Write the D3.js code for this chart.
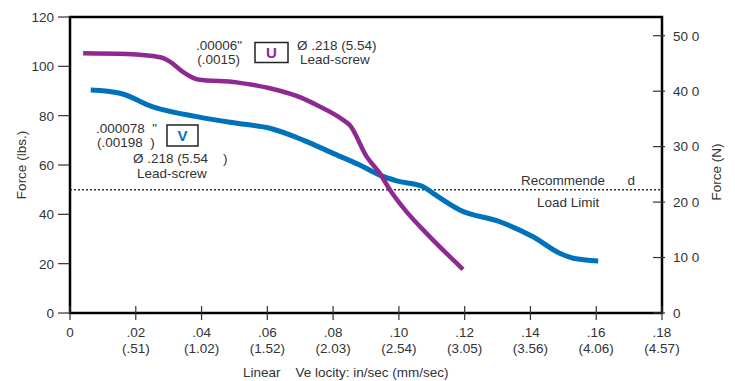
<!DOCTYPE html>
<html><head><meta charset="utf-8">
<script src="https://cdn.jsdelivr.net/npm/d3@7"></script>
<style>
body{margin:0;background:#fff;}
text{font-family:"Liberation Sans",Arial,sans-serif;fill:#333;white-space:pre;}
</style></head>
<body><svg id="c" width="735" height="381"></svg>
<script>
// Data
const xTicks = [0,0.02,0.04,0.06,0.08,0.10,0.12,0.14,0.16,0.18];
const xTickLabels = ["0",".02",".04",".06",".08",".10",".12",".14",".16",".18"];
const xTickMm = ["","(.51)","(1.02)","(1.52)","(2.03)","(2.54)","(3.05)","(3.56)","(4.06)","(4.57)"];
const yTicksLbs = [0,20,40,60,80,100,120];
const yTicksN = [0,100,200,300,400,500];
const yTickLabelsN = ["0","10 0","20 0","30 0","40 0","50 0"];
const loadLimit = 50;
const uVel = [0.0040,0.0172,0.0274,0.0304,0.0343,0.0389,0.0507,0.0608,0.0708,0.0750,0.0831,0.0851,0.0902,0.0942,0.0973,0.1023,0.1084,0.1195];
const uForce = [105.3,105.0,103.7,101.9,97.8,94.7,93.5,91.1,87.0,84.3,78.2,76.1,63.4,56.6,49.9,41.1,32.3,17.7];
const vVel = [0.0063,0.0152,0.0252,0.0385,0.0507,0.0608,0.0709,0.0800,0.0881,0.0942,0.0993,0.1074,0.1104,0.1185,0.1307,0.1408,0.1489,0.1530,0.1606];
const vForce = [90.4,89.1,83.6,79.6,76.9,74.9,70.1,64.7,60.0,55.9,53.6,51.2,48.5,41.8,37.0,30.9,24.2,22.2,21.1];

const svg = d3.select("#c");
const L=70,R=662,T=17,B=313;
const x = d3.scaleLinear().domain([0,0.18]).range([L,R]);
const y = d3.scaleLinear().domain([0,120]).range([B,T]);
const yN = d3.scaleLinear().domain([0,120*4.448]).range([B,T]);
const fs = 13.5;

// dashed load limit
svg.append("line").attr("x1",L).attr("x2",R).attr("y1",y(loadLimit)).attr("y2",y(loadLimit))
  .attr("stroke","#333").attr("stroke-width",1.5).attr("stroke-dasharray","2,2");

// curves
const line = d3.line().curve(d3.curveMonotoneX).x(d=>x(d[0])).y(d=>y(d[1]));
svg.append("path").datum(vVel.map((v,i)=>[v,vForce[i]])).attr("d",line)
  .attr("fill","none").attr("stroke","#0072BC").attr("stroke-width",5).attr("stroke-linejoin","round");
svg.append("path").datum(uVel.map((v,i)=>[v,uForce[i]])).attr("d",line)
  .attr("fill","none").attr("stroke","#8E2A8F").attr("stroke-width",4.5).attr("stroke-linejoin","round");

// frame
svg.append("path").attr("d",`M${L},${T}H${R}V${B}H${L}Z`).attr("fill","none").attr("stroke","#000").attr("stroke-width",2.5);

// left axis ticks
const gl = svg.append("g");
yTicksLbs.forEach(t=>{
  gl.append("line").attr("x1",L-12).attr("x2",L).attr("y1",y(t)).attr("y2",y(t)).attr("stroke","#333").attr("stroke-width",1.2);
  gl.append("text").attr("x",L-16).attr("y",y(t)).attr("dy","0.36em").attr("text-anchor","end").attr("font-size",fs).text(t);
});
// right axis ticks
yTicksN.forEach((t,i)=>{
  gl.append("line").attr("x1",R-9).attr("x2",R+3).attr("y1",yN(t)).attr("y2",yN(t)).attr("stroke","#333").attr("stroke-width",1.2);
  gl.append("text").attr("x",R+11).attr("y",yN(t)).attr("dy","0.36em").attr("text-anchor","start").attr("font-size",fs).text(yTickLabelsN[i]);
});
// bottom ticks
xTicks.forEach((t,i)=>{
  gl.append("line").attr("x1",x(t)).attr("x2",x(t)).attr("y1",B-7).attr("y2",B+7).attr("stroke","#333").attr("stroke-width",1.2);
  gl.append("text").attr("x",x(t)).attr("y",337).attr("text-anchor","middle").attr("font-size",fs).text(xTickLabels[i]);
  if(xTickMm[i]) gl.append("text").attr("x",x(t)).attr("y",353).attr("text-anchor","middle").attr("font-size",fs).text(xTickMm[i]);
});

// axis titles
svg.append("text").attr("transform","translate(26,165) rotate(-90)").attr("text-anchor","middle").attr("font-size",fs).text("Force (lbs.)");
svg.append("text").attr("transform","translate(721,172) rotate(-90)").attr("text-anchor","middle").attr("font-size",fs).text("Force (N)");
svg.append("text").attr("x",243).attr("y",377).attr("font-size",fs).text("Linear    Ve locity: in/sec (mm/sec)");

// load limit labels
svg.append("text").attr("x",521).attr("y",185).attr("font-size",fs).text("Recommende      d");
svg.append("text").attr("x",537).attr("y",207).attr("font-size",fs).text("Load Limit");

// U annotation
svg.append("text").attr("x",242).attr("y",50).attr("text-anchor","end").attr("font-size",fs).text(".00006\"");
svg.append("text").attr("x",240).attr("y",64).attr("text-anchor","end").attr("font-size",fs).text("(.0015)");
svg.append("rect").attr("x",255).attr("y",42.5).attr("width",33).attr("height",20).attr("fill","#fff").attr("stroke","#222").attr("stroke-width",1.5);
svg.append("text").attr("x",271.5).attr("y",58).attr("text-anchor","middle").attr("font-size",15).attr("font-weight","bold").style("fill","#8E2A8F").text("U");
svg.append("text").attr("x",297).attr("y",50).attr("font-size",fs).text("Ø .218 (5.54)");
svg.append("text").attr("x",300).attr("y",64).attr("font-size",fs).text("Lead-screw");

// V annotation
svg.append("text").attr("x",96).attr("y",133).attr("font-size",fs).text(".000078  \"");
svg.append("text").attr("x",97).attr("y",147).attr("font-size",fs).text("(.00198  )");
svg.append("rect").attr("x",167).attr("y",125).attr("width",31).attr("height",21).attr("fill","#fff").attr("stroke","#222").attr("stroke-width",1.5);
svg.append("text").attr("x",182.5).attr("y",141).attr("text-anchor","middle").attr("font-size",15).attr("font-weight","bold").style("fill","#0072BC").text("V");
svg.append("text").attr("x",133).attr("y",163).attr("font-size",fs).text("Ø .218 (5.54    )");
svg.append("text").attr("x",137).attr("y",178).attr("font-size",fs).text("Lead-screw");
</script></body></html>
